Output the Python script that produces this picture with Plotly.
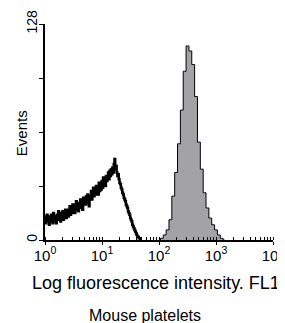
import numpy as np
import plotly.graph_objects as go

# Control (unstained) histogram: log10 channel centres and counts
control_counts = [14, 10, 13, 15, 11, 12, 9, 14,
                  11, 15, 12, 10, 16, 13, 11, 14,
                  10, 15, 13, 17, 12, 14, 11, 16,
                  13, 17, 12, 16, 14, 18, 13, 15,
                  18, 14, 17, 20, 15, 18, 16, 21,
                  17, 21, 16, 19, 23, 18, 20, 17,
                  22, 19, 24, 20, 23, 18, 25, 21,
                  24, 21, 26, 22, 27, 23, 20, 26,
                  25, 29, 24, 28, 31, 26, 29, 27,
                  32, 28, 31, 27, 34, 29, 33, 30,
                  35, 31, 37, 33, 36, 32, 38, 35,
                  37, 40, 36, 41, 38, 42, 39, 43,
                  40, 45, 48, 42, 44, 40, 38, 39,
                  36, 34, 33, 31, 30, 28, 27, 25,
                  24, 23, 21, 20, 19, 17, 16, 15,
                  13, 12, 11, 9, 8, 7, 6, 5,
                  4, 3, 2, 2, 1, 1, 0]
control_log = [round(i * 0.0125, 4) for i in range(len(control_counts))]

# Stained platelets histogram (filled grey)
stained_log = [2.00, 2.05, 2.10, 2.15, 2.20, 2.25, 2.30, 2.35, 2.40, 2.45,
               2.50, 2.55, 2.60, 2.65, 2.70, 2.75, 2.80, 2.85, 2.90, 2.95,
               3.00, 3.05, 3.10, 3.15]
stained_counts = [0, 1, 3, 6, 12, 26, 40, 57, 77, 100,
                  115, 112, 104, 85, 58, 42, 28, 19, 13, 9,
                  6, 3, 1, 0]

x_tickvals = [1, 10, 100, 1000, 10000]
x_ticktext = ["10<sup>0</sup>", "10<sup>1</sup>", "10<sup>2</sup>", "10<sup>3</sup>", "10<sup>4</sup>"]
y_tickvals = [0, 32, 64, 96, 128]
y_ticktext = ["0", "", "", "", "128"]

fig = go.Figure()
fig.add_trace(go.Scatter(
    x=[10 ** v for v in stained_log], y=stained_counts,
    mode="lines", line=dict(color="black", width=1, shape="hvh"),
    fill="tozeroy", fillcolor="#a3a3a6", hoverinfo="skip", showlegend=False))
fig.add_trace(go.Scatter(
    x=[10 ** v for v in control_log], y=control_counts,
    mode="lines", line=dict(color="black", width=2.5, shape="hvh"),
    hoverinfo="skip", showlegend=False))

font = "Liberation Sans, Arial, sans-serif"
# page body has an 8px margin, so the figure is sized to fill the rest of the window
fig.update_layout(
    width=277, height=315,
    margin=dict(l=37, r=12, t=16, b=83),
    paper_bgcolor="white", plot_bgcolor="white",
    font=dict(family=font, color="black"),
    xaxis=dict(type="log", range=[0, 4], tickvals=x_tickvals, ticktext=x_ticktext,
               ticks="outside", ticklen=3, tickwidth=1.2, tickcolor="black",
               showline=True, linecolor="black", linewidth=1.5, automargin=False,
               showgrid=False, zeroline=False, tickfont=dict(size=15),
               ticklabelstandoff=-2,
               minor=dict(ticks="inside", ticklen=3, dtick="D1", tickcolor="black",
                          showgrid=False)),
    yaxis=dict(range=[0, 128], tickvals=y_tickvals, ticktext=y_ticktext,
               ticks="outside", ticklen=4, tickwidth=1.2, tickcolor="black",
               showline=True, linecolor="black", linewidth=1.5, automargin=False,
               showgrid=False, zeroline=False, tickangle=-90,
               ticklabelstandoff=-3, tickfont=dict(size=14)),
    annotations=[
        dict(text="Events", xref="paper", yref="paper", x=-0.105, y=0.495,
             showarrow=False, textangle=-90, font=dict(size=15),
             xanchor="center", yanchor="middle"),
        dict(text="Log fluorescence intensity. FL1", xref="paper", yref="paper",
             x=0.485, y=-0.2, showarrow=False, font=dict(size=18),
             xanchor="center", yanchor="middle"),
        dict(text="Mouse platelets", xref="paper", yref="paper",
             x=0.44, y=-0.35, showarrow=False, font=dict(size=16),
             xanchor="center", yanchor="middle"),
    ],
)

fig.write_html("out.html")
